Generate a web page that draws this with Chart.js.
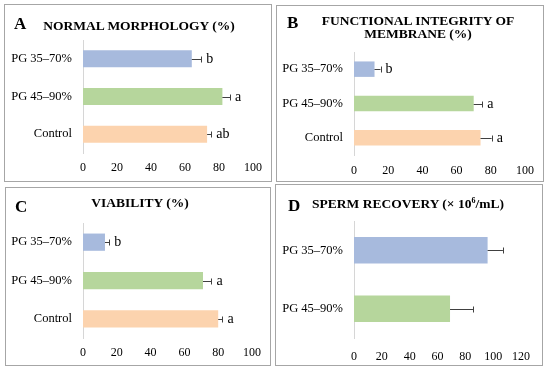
<!DOCTYPE html>
<html>
<head>
<meta charset="utf-8">
<script src="https://cdn.jsdelivr.net/npm/chart.js@4/dist/chart.umd.min.js"></script>
<style>
body { margin: 0; background: #fff; width: 550px; height: 372px; position: relative; overflow: hidden; font-family: "Liberation Serif", "Times New Roman", serif; color: #000; }
.panel { position: absolute; border: 1px solid #a6a6a6; box-sizing: border-box; }
.panel canvas { position: absolute; left: 0; top: 0; }
.tag { position: absolute; font-weight: bold; font-size: 17px; line-height: 17px; }
.ttl { position: absolute; font-weight: bold; font-size: 13.5px; line-height: 13px; text-align: center; transform: translateX(-50%); white-space: nowrap; }
.ttl sup { font-size: 8px; vertical-align: 5px; line-height: 0; }
</style>
</head>
<body>

<div class="panel" id="pA"><canvas id="cA"></canvas></div>
<div class="panel" id="pB"><canvas id="cB"></canvas></div>
<div class="panel" id="pC"><canvas id="cC"></canvas></div>
<div class="panel" id="pD"><canvas id="cD"></canvas></div>

<div class="tag" style="left:14px;top:15px">A</div>
<div class="ttl" style="left:139px;top:19px">NORMAL MORPHOLOGY (%)</div>
<div class="tag" style="left:287px;top:14px">B</div>
<div class="ttl" style="left:418px;top:14px">FUNCTIONAL INTEGRITY OF<br>MEMBRANE (%)</div>
<div class="tag" style="left:15px;top:198px">C</div>
<div class="ttl" style="left:140px;top:196px">VIABILITY (%)</div>
<div class="tag" style="left:288px;top:197px">D</div>
<div class="ttl" style="left:408px;top:197px">SPERM RECOVERY (× 10<sup>6</sup>/mL)</div>

<script>
// groups
const groups3 = ['PG 35–70%', 'PG 45–90%', 'Control'];
const groups2 = ['PG 35–70%', 'PG 45–90%'];
const colors3 = ['#a7badd', '#b6d69c', '#fcd3ae'];

// A - normal morphology
const morphology = [64, 82, 73];
const morphologyErr = [5.5, 4.5, 2.5];
const morphologySig = ['b', 'a', 'ab'];

// B - functional membrane integrity
const membrane = [12, 70, 74];
const membraneErr = [3.5, 5, 6.5];
const membraneSig = ['b', 'a', 'a'];

// C - viability
const viability = [13, 71, 80];
const viabilityErr = [2.5, 5, 2.5];
const viabilitySig = ['b', 'a', 'a'];

// D - sperm recovery (x10^6/mL)
const recovery = [96, 69];
const recoveryErr = [11, 16.5];
const recoverySig = ['', ''];

const ticks100 = 100;
const ticks120 = 120;

function errorBars(err, sig) {
    return {
        id: 'errorBars',
        afterDatasetsDraw(chart) {
            const ctx = chart.ctx;
            const x = chart.scales.x;
            const ds = chart.data.datasets[0];
            const meta = chart.getDatasetMeta(0);
            ctx.save();
            meta.data.forEach((bar, i) => {
                const x0 = x.getPixelForValue(ds.data[i]);
                const x1 = x.getPixelForValue(ds.data[i] + err[i]);
                const y = Math.round(bar.y) + 0.5;
                ctx.strokeStyle = '#404040';
                ctx.lineWidth = 1;
                ctx.beginPath();
                ctx.moveTo(x0, y);
                ctx.lineTo(x1, y);
                ctx.moveTo(Math.round(x1) + 0.5, y - 3);
                ctx.lineTo(Math.round(x1) + 0.5, y + 3);
                ctx.stroke();
                if (sig[i]) {
                    ctx.fillStyle = '#000';
                    ctx.font = '14px "Liberation Serif", serif';
                    ctx.textBaseline = 'middle';
                    ctx.textAlign = 'left';
                    ctx.fillText(sig[i], x1 + 5, y);
                }
            });
            ctx.restore();
        }
    };
}

function makePanel(id, g, cats, vals, err, sig, xmax) {
    const panel = document.getElementById('p' + id);
    panel.style.left = g.left + 'px';
    panel.style.top = g.top + 'px';
    panel.style.width = (g.right - g.left) + 'px';
    panel.style.height = (g.bottom - g.top) + 'px';
    const ox = g.left + 1, oy = g.top + 1;
    const cw = g.right - g.left - 2, ch = g.bottom - g.top - 2;
    const canvas = document.getElementById('c' + id);
    canvas.width = cw;
    canvas.height = ch;
    canvas.style.width = cw + 'px';
    canvas.style.height = ch + 'px';

    return new Chart(canvas, {
        type: 'bar',
        data: {
            labels: cats,
            datasets: [{
                data: vals,
                backgroundColor: colors3.slice(0, vals.length),
                borderWidth: 0,
                categoryPercentage: 1,
                barPercentage: 0.45
            }]
        },
        options: {
            indexAxis: 'y',
            responsive: false,
            animation: false,
            devicePixelRatio: 1,
            layout: {
                padding: { top: g.areaT - oy, right: cw - (g.areaR - ox), left: 0, bottom: 0 }
            },
            plugins: { legend: { display: false }, tooltip: { enabled: false } },
            scales: {
                x: {
                    min: 0,
                    max: xmax,
                    grid: { display: false, drawTicks: false },
                    border: { display: false },
                    ticks: {
                        stepSize: 20,
                        padding: g.tickY - g.areaB - 7,
                        color: '#000',
                        font: { family: '"Liberation Serif", serif', size: 12 }
                    },
                    afterFit: s => { s.height = ch - (g.areaB - oy); }
                },
                y: {
                    grid: { display: false, drawTicks: false },
                    border: { display: true, color: '#d6d6d6', width: 1 },
                    ticks: {
                        padding: 11,
                        color: '#000',
                        font: { family: '"Liberation Serif", serif', size: 12.5 }
                    },
                    afterFit: s => { s.width = g.areaL - ox; }
                }
            }
        },
        plugins: [errorBars(err, sig)]
    });
}

makePanel('A', { left: 4, top: 4, right: 272, bottom: 182, areaL: 83, areaR: 253, areaT: 40, areaB: 153, tickY: 168 },
    groups3, morphology, morphologyErr, morphologySig, ticks100);
makePanel('B', { left: 276, top: 5, right: 544, bottom: 182, areaL: 354, areaR: 525, areaT: 52, areaB: 155, tickY: 171 },
    groups3, membrane, membraneErr, membraneSig, ticks100);
makePanel('C', { left: 5, top: 187, right: 271, bottom: 366, areaL: 83, areaR: 252, areaT: 223, areaB: 338, tickY: 353 },
    groups3, viability, viabilityErr, viabilitySig, ticks100);
makePanel('D', { left: 275, top: 184, right: 543, bottom: 366, areaL: 354, areaR: 525, areaT: 221, areaB: 338, tickY: 357 },
    groups2, recovery, recoveryErr, recoverySig, ticks120);
</script>
</body>
</html>
